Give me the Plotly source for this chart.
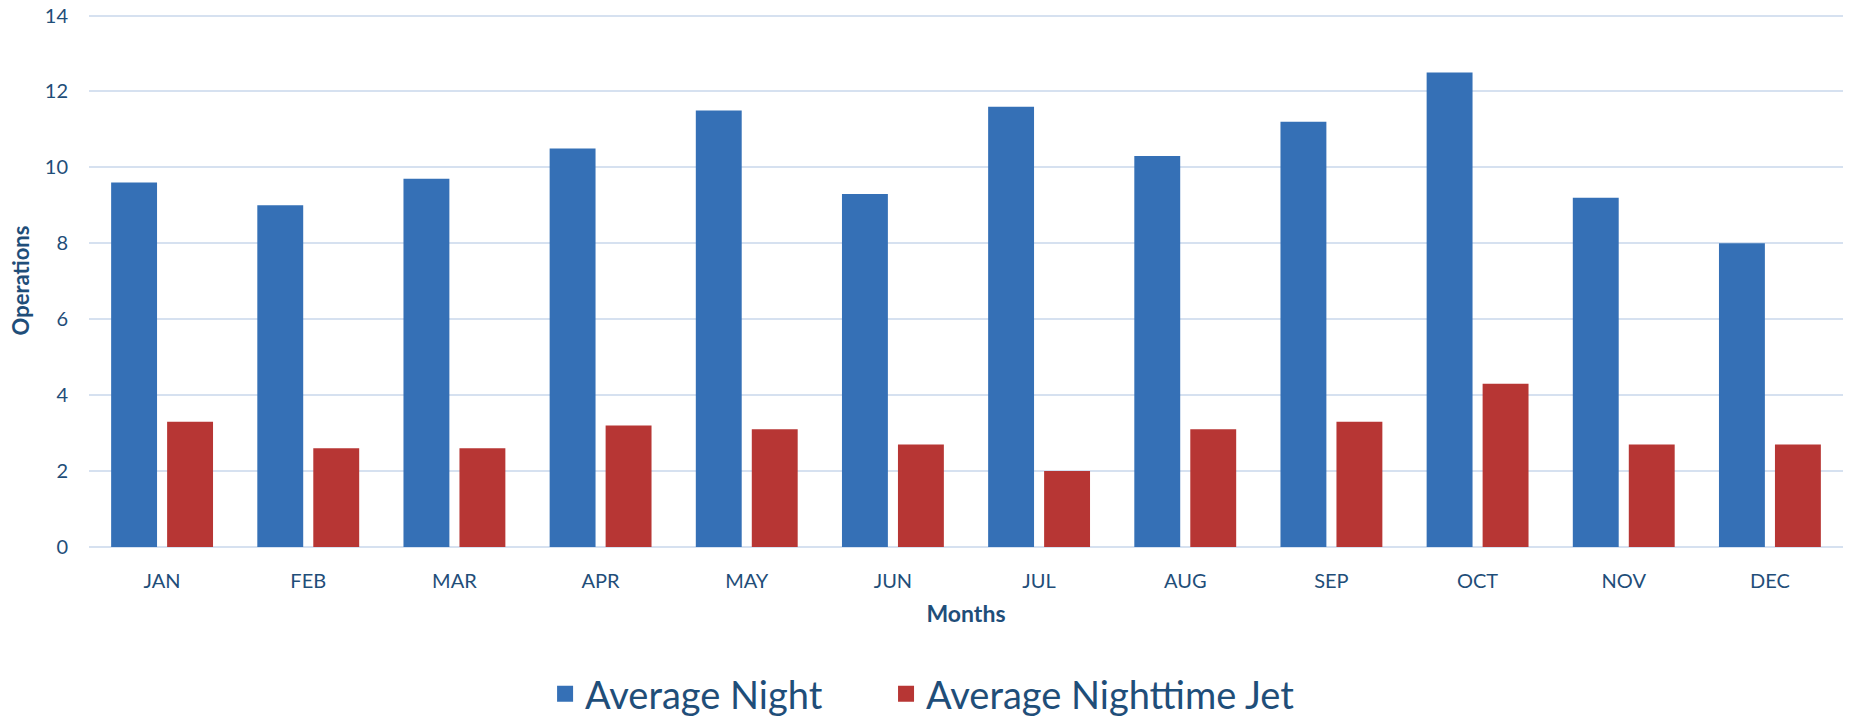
import plotly.graph_objects as go

months = ["JAN", "FEB", "MAR", "APR", "MAY", "JUN", "JUL", "AUG", "SEP", "OCT", "NOV", "DEC"]
avg_night = [9.6, 9.0, 9.7, 10.5, 11.5, 9.3, 11.6, 10.3, 11.2, 12.5, 9.2, 8.0]
avg_night_jet = [3.3, 2.6, 2.6, 3.2, 3.1, 2.7, 2.0, 3.1, 3.3, 4.3, 2.7, 2.7]
y_ticks = [0, 2, 4, 6, 8, 10, 12, 14]
series_names = ["Average Night", "Average Nighttime Jet"]
series_colors = ["#3570B6", "#B73634"]

TXT = "#1F4E79"
FONT = "Lato"

fig = go.Figure()
for name, vals, col in zip(series_names, [avg_night, avg_night_jet], series_colors):
    fig.add_trace(go.Bar(
        x=months, y=vals, name=name, showlegend=False,
        marker=dict(color=col, line=dict(width=0)),
    ))
# legend entries with larger square swatches, one legend per series
for name, col, lg in zip(series_names, series_colors, ["legend", "legend2"]):
    fig.add_trace(go.Scatter(
        x=[None], y=[None], name=name, mode="markers", legend=lg,
        marker=dict(symbol="square", size=24, color=col),
    ))

leg_common = dict(
    orientation="h", xref="container", yref="container",
    xanchor="left", y=0.0334, yanchor="middle",
    font=dict(size=38, color=TXT, family=FONT),
    itemwidth=30, bgcolor="rgba(0,0,0,0)",
)

fig.update_layout(
    width=1849, height=718,
    margin=dict(l=89, r=6, t=14, b=171, autoexpand=False),
    paper_bgcolor="white", plot_bgcolor="white",
    barmode="group", bargap=0.234, bargroupgap=0.18,
    font=dict(family=FONT, color=TXT, size=20),
    showlegend=True,
    legend=dict(x=0.2948, **leg_common),
    legend2=dict(x=0.4792, **leg_common),
    xaxis=dict(
        title=dict(text="<b>Months</b>", font=dict(size=23, color=TXT), standoff=14),
        tickfont=dict(size=20, color=TXT),
        showline=False, showgrid=False, zeroline=False,
        ticks="", ticklabelstandoff=20, automargin=False,
    ),
    yaxis=dict(
        title=dict(text="<b>Operations</b>", font=dict(size=22, color=TXT), standoff=9),
        range=[0, 14.04], tickvals=y_ticks,
        tickfont=dict(size=20, color=TXT),
        showgrid=True, gridcolor="#D6E1F0", gridwidth=2,
        zeroline=True, zerolinecolor="#D6E1F0", zerolinewidth=2,
        showline=False, ticks="", ticklabelstandoff=20, automargin=False,
        ticklabeloverflow="allow",
    ),
)

fig.write_html(
    "out.html",
    config={"displayModeBar": False},
    post_script="document.body.style.margin='0';",
)
